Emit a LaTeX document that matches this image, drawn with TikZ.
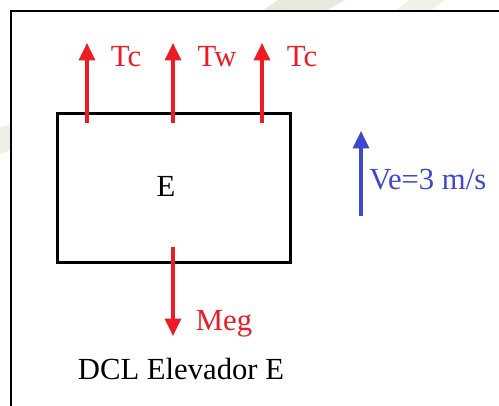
\documentclass[tikz,border=0pt]{standalone}
\usepackage{fontspec}
\setmainfont{Liberation Serif}
\usetikzlibrary{arrows.meta}
\definecolor{fred}{RGB}{237,28,36}
\definecolor{fblue}{RGB}{63,72,204}
\definecolor{wm}{RGB}{232,232,220}
\begin{document}
\begin{tikzpicture}[x=0.75pt,y=-0.75pt,
  force/.style={draw=fred,line width=3.2pt*0.75,-{Triangle[length=13pt,width=12pt]}},
  vel/.style={draw=fblue,line width=3.2pt*0.75,-{Triangle[length=13pt,width=12pt]}},
  lab/.style={font=\fontsize{23}{27}\selectfont,inner sep=0pt},
  redlab/.style={lab,text=fred},
  bluelab/.style={lab,text=fblue}]
\useasboundingbox (0,0) rectangle (499,405);
\fill[white] (0,0) rectangle (499,405);
% faint watermark
\fill[wm] (262,11) -- (278,0) -- (345,0) -- (325,11) -- cycle;
\fill[wm!60] (395,11) -- (410,0) -- (445,0) -- (430,11) -- cycle;
\fill[wm!70] (0,128) -- (10,124) -- (10,150) -- (0,154) -- cycle;
% frame
\draw[line width=1.5pt] (11,406) -- (11,11) -- (500,11);
% box
\node[draw,line width=2.3pt,minimum width=233*0.75pt,minimum height=149*0.75pt,inner sep=0pt,
  anchor=north west] (box) at (55.5,111.5) {};
\node[lab] (E) at (166,186) {E};
% forces
\coordinate (t1s) at (87,123); \coordinate (t1e) at (87,43);
\coordinate (t2s) at (173,123); \coordinate (t2e) at (173,43);
\coordinate (t3s) at (262,123); \coordinate (t3e) at (262,43);
\draw[force] (t1s) -- (t1e);
\draw[force] (t2s) -- (t2e);
\draw[force] (t3s) -- (t3e);
\node[redlab] (tc1) at (126,57) {Tc};
\node[redlab] (tw) at (217,57) {Tw};
\node[redlab] (tc2) at (302,57) {Tc};
\coordinate (ms) at (173,247); \coordinate (me) at (173,336);
\draw[force] (ms) -- (me);
\node[redlab] (meg) at (224,324) {Meg};
\node[lab] (dcl) at (181,369) {DCL Elevador E};
% velocity
\coordinate (vs) at (361,216); \coordinate (ve) at (361,131);
\draw[vel] (vs) -- (ve);
\node[bluelab,anchor=west] (vlab) at (369,180) {Ve=3 m/s};
\end{tikzpicture}
\end{document}
